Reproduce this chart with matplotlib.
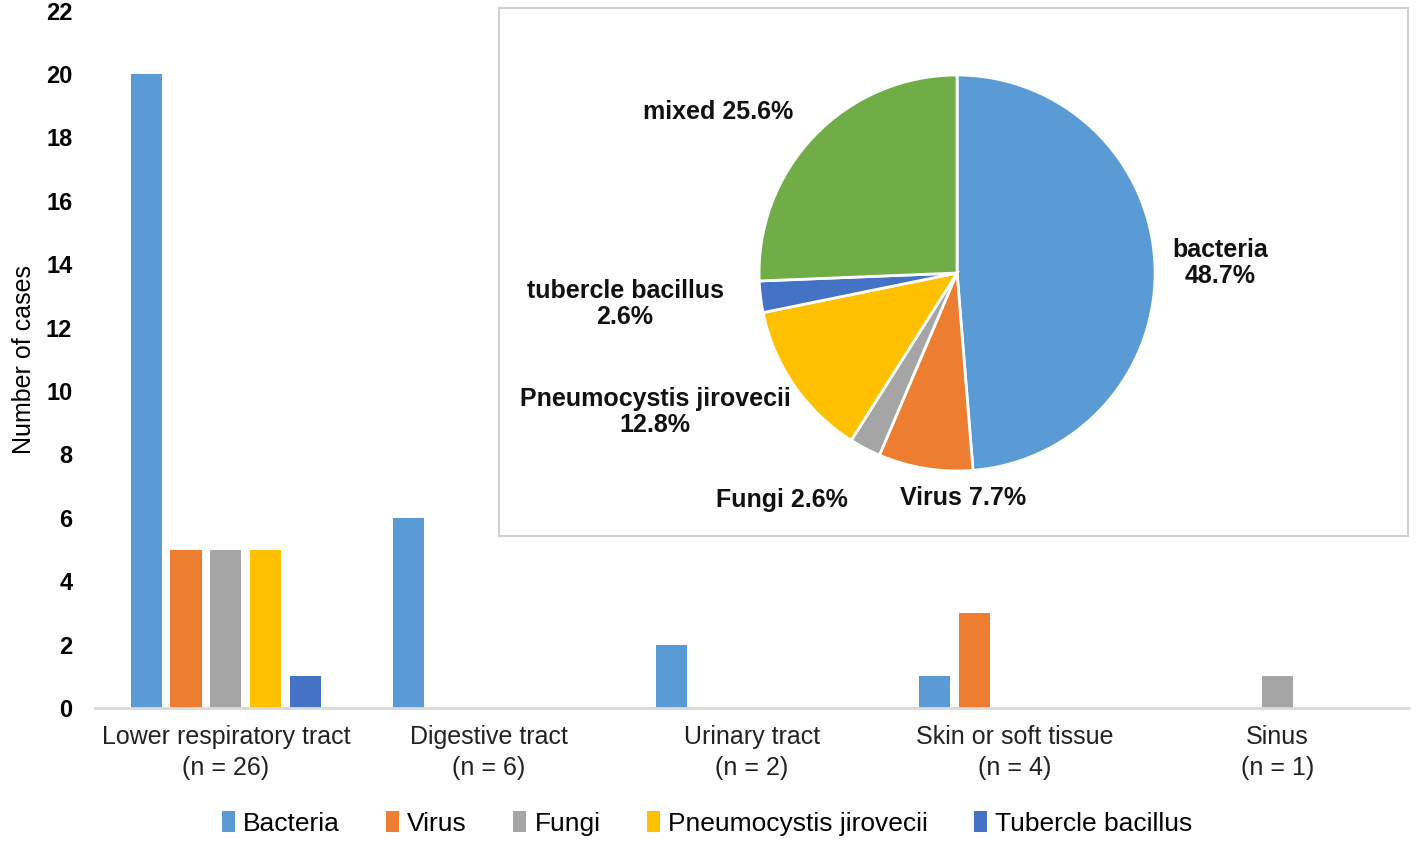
import numpy as np
import matplotlib
matplotlib.use("Agg")
import matplotlib.pyplot as plt
from matplotlib.patches import Patch

plt.rcParams['font.family'] = ['Liberation Sans', 'DejaVu Sans']

# bar chart data
sites = ["Lower respiratory tract\n(n = 26)", "Digestive tract\n(n = 6)",
         "Urinary tract\n(n = 2)", "Skin or soft tissue\n(n = 4)", "Sinus\n(n = 1)"]
series = ["Bacteria", "Virus", "Fungi", "Pneumocystis jirovecii", "Tubercle bacillus"]
bacteria = [20, 6, 2, 1, 0]
virus = [5, 0, 0, 3, 0]
fungi = [5, 0, 0, 0, 1]
pneumo = [5, 0, 0, 0, 0]
tubercle = [1, 0, 0, 0, 0]
colors = ["#5B9BD5", "#ED7D31", "#A5A5A5", "#FFC000", "#4472C4"]

# pie data (cases)
pie_names = ["bacteria", "Virus", "Fungi", "Pneumocystis jirovecii", "tubercle bacillus", "mixed"]
pie_values = [19, 3, 1, 5, 1, 10]
pie_colors = ["#5B9BD5", "#ED7D31", "#A5A5A5", "#FFC000", "#4472C4", "#70AD47"]

fig = plt.figure(figsize=(14.17, 8.42), dpi=100)
ax = fig.add_axes([0.0667, 0.1591, 0.9276, 0.8283])

x = np.arange(len(sites))
width = 0.118
step = 0.152
for i, (name, vals) in enumerate(zip(series, [bacteria, virus, fungi, pneumo, tubercle])):
    ax.bar(x + (i - 2) * step, vals, width, color=colors[i], label=name, zorder=2)

ax.set_xlim(-0.5, 4.5)
ax.set_ylim(0, 22)
ax.set_yticks(range(0, 23, 2))
ax.set_xticks(x)
ax.set_xticklabels(sites, fontsize=18, color="#222222", linespacing=1.4)
for t in ax.get_yticklabels():
    t.set_fontweight("bold")
    t.set_fontsize(17)
ax.tick_params(axis="y", length=0, pad=16)
ax.tick_params(axis="x", length=0, pad=12)
for s in ["top", "right", "left"]:
    ax.spines[s].set_visible(False)
ax.spines["bottom"].set_color("#D9D9D9")
ax.spines["bottom"].set_linewidth(2)
ax.set_ylabel("Number of cases", fontsize=18, labelpad=7)

handles = [Patch(facecolor=c, label=n) for c, n in zip(colors, series)]
fig.legend(handles=handles, loc="center", bbox_to_anchor=(0.499, 0.022), ncol=5,
           frameon=False, fontsize=19, handlelength=0.5, handleheight=0.8,
           handletextpad=0.3, columnspacing=1.75)

# inset pie in a box (box units = pixels)
box = fig.add_axes([0.3522, 0.3634, 0.6415, 0.6271])
box.pie(pie_values, colors=pie_colors, startangle=90, counterclock=False,
        center=(458, 263), radius=198, frame=True,
        wedgeprops=dict(edgecolor="white", linewidth=2))
box.set_aspect("auto")
box.set_xlim(0, 909)
box.set_ylim(0, 528)
box.set_xticks([])
box.set_yticks([])
for s in box.spines.values():
    s.set_color("#D0D0D0")
    s.set_linewidth(1.5)

total = sum(pie_values)
label_xy = [(721, 273), (464, 38), (283, 36), (156, 124), (126, 232), (219, 424)]
label_sep = ["\n", " ", " ", "\n", "\n", " "]
for name, v, (lx, ly), sep in zip(pie_names, pie_values, label_xy, label_sep):
    box.text(lx, ly, f"{name}{sep}{v / total * 100:.1f}%", ha="center", va="center",
             fontsize=18, fontweight="bold", color="#111111", linespacing=1.15)

fig.savefig("out.png", dpi=100)
